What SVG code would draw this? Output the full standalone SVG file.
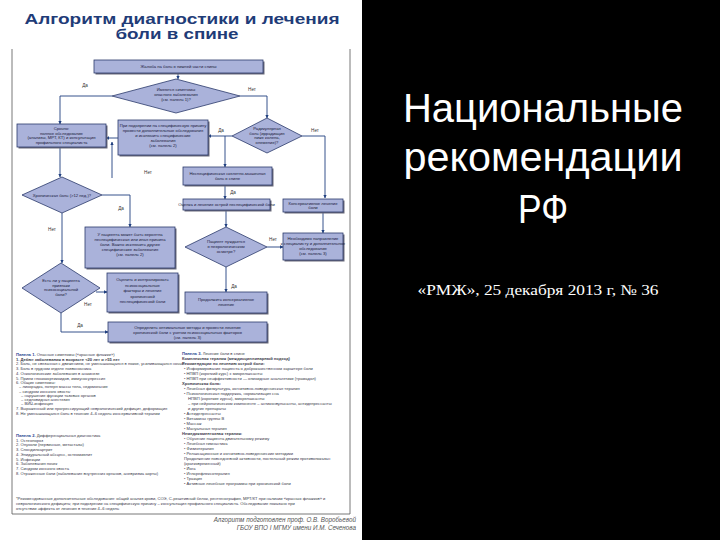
<svg xmlns="http://www.w3.org/2000/svg" width="720" height="540" viewBox="0 0 720 540">
<defs>
<marker id="ah" viewBox="0 0 6 6" refX="5.5" refY="3" markerWidth="4" markerHeight="4" orient="auto">
<path d="M0,0 L6,3 L0,6 z" fill="#1f3f7f"/>
</marker>
<style>
.nb{fill:#aab2da;stroke:#2b3a6b;stroke-width:0.8}
.sh{fill:#6a6a7a}
.nt{font-family:"Liberation Sans",Arial,sans-serif;font-size:4.2px;fill:#1a1a3a;text-anchor:middle}
.lb{font-family:"Liberation Sans",Arial,sans-serif;font-size:4.6px;fill:#333;text-anchor:middle}
.cn{fill:none;stroke:#1f3f7f;stroke-width:0.9}
.pt{font-family:"Liberation Sans",Arial,sans-serif;font-size:4.1px;fill:#3a3a4a}
.ph{font-family:"Liberation Sans",Arial,sans-serif;font-size:4.1px;fill:#1f3f8f;font-weight:bold}
.tt{font-family:"Liberation Sans",Arial,sans-serif;font-weight:bold;fill:#1f3c78;text-anchor:middle}
.fr{stroke:#555;stroke-width:0.8;fill:none}
</style>
</defs>
<rect x="0" y="0" width="720" height="540" fill="#000"/>
<rect x="0" y="0" width="362" height="540" fill="#fff"/>

<text class="tt" x="182" y="24" font-size="14.5" textLength="315" lengthAdjust="spacingAndGlyphs">Алгоритм диагностики и лечения</text>
<text class="tt" x="177" y="39" font-size="14.5" textLength="123" lengthAdjust="spacingAndGlyphs">боли в спине</text>

<path class="fr" d="M12,49 V514 H350 V49"/>

<g id="connectors">
<path class="cn" d="M178,73 V79" marker-end="url(#ah)"/>
<path class="cn" d="M112,96 H60 V124" marker-end="url(#ah)"/>
<path class="cn" d="M240,96 H267 V118" marker-end="url(#ah)"/>
<path class="cn" d="M232,136 H208" marker-end="url(#ah)"/>
<path class="cn" d="M225,136 V167" marker-end="url(#ah)"/>
<path class="cn" d="M302,136 H325 V198" marker-end="url(#ah)"/>
<path class="cn" d="M118,138 H106" marker-end="url(#ah)"/>
<path class="cn" d="M112,178 V142" marker-end="url(#ah)"/>
<path class="cn" d="M60,147 V177" marker-end="url(#ah)"/>
<path class="cn" d="M102,195 H130 V227" marker-end="url(#ah)"/>
<path class="cn" d="M62,213 V263" marker-end="url(#ah)"/>
<path class="cn" d="M96,292 H107" marker-end="url(#ah)"/>
<path class="cn" d="M61,313 V332 H108" marker-end="url(#ah)"/>
<path class="cn" d="M225,185 V199" marker-end="url(#ah)"/>
<path class="cn" d="M226,210 V227" marker-end="url(#ah)"/>
<path class="cn" d="M267,247 H283" marker-end="url(#ah)"/>
<path class="cn" d="M226,267 V292" marker-end="url(#ah)"/>
<path class="cn" d="M323,213 V233" marker-end="url(#ah)"/>
<text class="lb" x="85" y="87">Да</text>
<text class="lb" x="252" y="91">Нет</text>
<text class="lb" x="221" y="132">Да</text>
<text class="lb" x="315" y="132">Нет</text>
<text class="lb" x="148" y="174">Нет</text>
<text class="lb" x="121" y="210">Да</text>
<text class="lb" x="52" y="231">Нет</text>
<text class="lb" x="88" y="306">Нет</text>
<text class="lb" x="80" y="327">Да</text>
<text class="lb" x="233" y="194">Да</text>
<text class="lb" x="273" y="241">Нет</text>
<text class="lb" x="234" y="288">Да</text>
</g>

<g id="n-complaint">
<rect class="sh" x="95.5" y="61.5" width="169" height="13"/>
<rect class="nb" x="94" y="60" width="169" height="13"/>
<text class="nt" x="178.5" y="68">Жалоба на боль в нижней части спины</text>
</g>

<g id="n-danger">
<polygon class="nb" points="112,96 176,79 240,96 176,113"/>
<text class="nt" x="176" y="91">Имеются симптомы</text>
<text class="nt" x="176" y="96">опасного заболевания</text>
<text class="nt" x="176" y="101">(см. панель 1)?</text>
</g>

<g id="n-urgent">
<rect class="sh" x="18.5" y="125.5" width="89" height="23"/>
<rect class="nb" x="17" y="124" width="89" height="23"/>
<text class="nt" x="61.5" y="130">Срочно:</text>
<text class="nt" x="61.5" y="134.5">полное обследование</text>
<text class="nt" x="61.5" y="139">(анализы, МРТ, КТ) и консультация</text>
<text class="nt" x="61.5" y="143.5">профильного специалиста</text>
</g>

<g id="n-specific">
<rect class="sh" x="119.5" y="121.5" width="90" height="35"/>
<rect class="nb" x="118" y="120" width="90" height="35"/>
<text class="nt" x="163" y="127">При подозрении на специфическую причину</text>
<text class="nt" x="163" y="132">провести дополнительные обследования</text>
<text class="nt" x="163" y="137">и исключить специфические</text>
<text class="nt" x="163" y="142">заболевания</text>
<text class="nt" x="163" y="147">(см. панель 2)</text>
</g>

<g id="n-radicular">
<polygon class="nb" points="232,136 267,118 302,136 267,153"/>
<text class="nt" x="267" y="130">Радикулярная</text>
<text class="nt" x="267" y="134.5">боль (иррадиация</text>
<text class="nt" x="267" y="139">ниже колена,</text>
<text class="nt" x="267" y="143.5">онемение)?</text>
</g>

<g id="n-nonspecific">
<rect class="sh" x="184.5" y="168.5" width="89" height="18"/>
<rect class="nb" x="183" y="167" width="89" height="18"/>
<text class="nt" x="227.5" y="175">Неспецифическая скелетно-мышечная</text>
<text class="nt" x="227.5" y="180">боль в спине</text>
</g>

<g id="n-assess">
<rect class="sh" x="184.5" y="200.5" width="87" height="11"/>
<rect class="nb" x="183" y="199" width="87" height="11"/>
<text class="nt" x="226.5" y="206">Оценка и лечение острой неспецифической боли</text>
</g>

<g id="n-conservative">
<rect class="sh" x="284.5" y="200.5" width="60" height="13"/>
<rect class="nb" x="283" y="199" width="60" height="13"/>
<text class="nt" x="313" y="204.5">Консервативное лечение</text>
<text class="nt" x="313" y="209">боли</text>
</g>

<g id="n-neuro">
<polygon class="nb" points="185,247 226,227 267,247 226,267"/>
<text class="nt" x="226" y="243">Пациент нуждается</text>
<text class="nt" x="226" y="248">в неврологическом</text>
<text class="nt" x="226" y="253">осмотре?</text>
</g>

<g id="n-referral">
<rect class="sh" x="284.5" y="234.5" width="60" height="27"/>
<rect class="nb" x="283" y="233" width="60" height="27"/>
<text class="nt" x="313" y="239.5">Необходимо направление</text>
<text class="nt" x="313" y="244.5">к специалисту и дополнительное</text>
<text class="nt" x="313" y="249.5">обследование</text>
<text class="nt" x="313" y="254.5">(см. панель 3)</text>
</g>

<g id="n-continue">
<rect class="sh" x="186.5" y="293.5" width="82" height="21"/>
<rect class="nb" x="185" y="292" width="82" height="21"/>
<text class="nt" x="226" y="301">Продолжить консервативное</text>
<text class="nt" x="226" y="306">лечение</text>
</g>

<g id="n-chronic">
<polygon class="nb" points="22,195 62,177 102,195 62,213"/>
<text class="nt" x="62" y="196.5">Хроническая боль (&gt;12 нед.)?</text>
</g>

<g id="n-possible">
<rect class="sh" x="86.5" y="228.5" width="90" height="41"/>
<rect class="nb" x="85" y="227" width="90" height="41"/>
<text class="nt" x="130" y="236">У пациента может быть вероятна</text>
<text class="nt" x="130" y="241">неспецифическая или иная причина</text>
<text class="nt" x="130" y="246">боли. Важно исключить другие</text>
<text class="nt" x="130" y="251">специфические заболевания</text>
<text class="nt" x="130" y="256">(см. панель 2)</text>
</g>

<g id="n-psycho">
<polygon class="nb" points="22,288 61,263 100,288 61,313"/>
<text class="nt" x="61" y="282">Есть ли у пациента</text>
<text class="nt" x="61" y="286.5">признаки</text>
<text class="nt" x="61" y="291">психосоциальной</text>
<text class="nt" x="61" y="295.5">боли?</text>
</g>

<g id="n-evaluate">
<rect class="sh" x="108.5" y="274.5" width="71" height="39"/>
<rect class="nb" x="107" y="273" width="71" height="39"/>
<text class="nt" x="142.5" y="281">Оценить и контролировать</text>
<text class="nt" x="142.5" y="286.5">психосоциальные</text>
<text class="nt" x="142.5" y="292">факторы и лечение</text>
<text class="nt" x="142.5" y="297.5">хронической</text>
<text class="nt" x="142.5" y="303">неспецифической боли</text>
</g>

<g id="n-define">
<rect class="sh" x="109.5" y="323.5" width="159" height="20"/>
<rect class="nb" x="108" y="322" width="159" height="20"/>
<text class="nt" x="187.5" y="328.5">Определить оптимальные методы и провести лечение</text>
<text class="nt" x="187.5" y="333.5">хронической боли с учетом психосоциальных факторов</text>
<text class="nt" x="187.5" y="338.5">(см. панель 3)</text>
</g>

<g id="panels">
<text class="ph" x="16" y="356">Панель 1. <tspan fill="#3a3a4a" font-weight="normal">Опасные симптомы («красные флажки»)</tspan></text>
<text class="pt" x="16" y="360.7" font-weight="bold">1. Дебют заболевания в возрасте &lt;20 лет и &gt;55 лет</text>
<text class="pt" x="16" y="365.4">2. Боль, не связанная с движением, не уменьшающаяся в покое, усиливающаяся ночью</text>
<text class="pt" x="16" y="370.1">3. Боль в грудном отделе позвоночника</text>
<text class="pt" x="16" y="374.8">4. Онкологические заболевания в анамнезе</text>
<text class="pt" x="16" y="379.5">5. Прием глюкокортикоидов, иммуносупрессия</text>
<text class="pt" x="16" y="384.2">6. Общие симптомы:</text>
<text class="pt" x="19" y="388.4">– лихорадка, потеря массы тела, недомогание</text>
<text class="pt" x="19" y="392.6">– синдром конского хвоста:</text>
<text class="pt" x="21" y="396.8">– нарушение функции тазовых органов</text>
<text class="pt" x="21" y="401">– седловидная анестезия</text>
<text class="pt" x="21" y="405.2">– ВИЧ-инфекция</text>
<text class="pt" x="16" y="409.9">7. Выраженный или прогрессирующий неврологический дефицит, деформация</text>
<text class="pt" x="16" y="414.6">8. Не уменьшающаяся боль в течение 4–6 недель консервативной терапии</text>

<text class="ph" x="16" y="437">Панель 2. <tspan fill="#3a3a4a" font-weight="normal">Дифференциальная диагностика</tspan></text>
<text class="pt" x="16" y="441.7">1. Остеопороз</text>
<text class="pt" x="16" y="446.4">2. Опухоли (первичные, метастазы)</text>
<text class="pt" x="16" y="451.1">3. Спондилоартрит</text>
<text class="pt" x="16" y="455.8">4. Эпидуральный абсцесс, остеомиелит</text>
<text class="pt" x="16" y="460.5">5. Инфекции</text>
<text class="pt" x="16" y="465.2">6. Заболевания почек</text>
<text class="pt" x="16" y="469.9">7. Синдром конского хвоста</text>
<text class="pt" x="16" y="474.6">8. Отраженные боли (заболевания внутренних органов, аневризма аорты)</text>

<text class="pt" x="16" y="500">*Рекомендованные дополнительные обследования: общий анализ крови, СОЭ, С-реактивный белок, рентгенография, МРТ/КТ при наличии «красных флажков» и</text>
<text class="pt" x="16" y="505">неврологического дефицита; при подозрении на специфическую причину – консультация профильного специалиста. Обследование показано при</text>
<text class="pt" x="16" y="510">отсутствии эффекта от лечения в течение 4–6 недель</text>

<text class="ph" x="182" y="355">Панель 3. <tspan fill="#3a3a4a" font-weight="normal">Лечение боли в спине</tspan></text>
<text class="pt" x="182" y="360" font-weight="bold">Комплексная терапия (междисциплинарный подход)</text>
<text class="pt" x="182" y="365" font-weight="bold">Рекомендации по лечению острой боли:</text>
<text class="pt" x="184" y="370">• Информирование пациента о доброкачественном характере боли</text>
<text class="pt" x="184" y="375">• НПВП (короткий курс) ± миорелаксанты</text>
<text class="pt" x="184" y="380">• НПВП при неэффективности — опиоидные анальгетики (трамадол)</text>
<text class="pt" x="182" y="385" font-weight="bold">Хроническая боль:</text>
<text class="pt" x="184" y="390">• Лечебная физкультура, когнитивно-поведенческая терапия</text>
<text class="pt" x="184" y="395">• Психологическая поддержка, нормализация сна</text>
<text class="pt" x="188" y="400">НПВП (короткие курсы), миорелаксанты</text>
<text class="pt" x="188" y="405">– при нейропатическом компоненте – антиконвульсанты, антидепрессанты</text>
<text class="pt" x="188" y="410">и другие препараты</text>
<text class="pt" x="184" y="415">• Антидепрессанты</text>
<text class="pt" x="184" y="420">• Витамины группы В</text>
<text class="pt" x="184" y="425">• Массаж</text>
<text class="pt" x="184" y="430">• Мануальная терапия</text>
<text class="pt" x="182" y="435" font-weight="bold">Немедикаментозная терапия:</text>
<text class="pt" x="184" y="440">• Обучение пациента двигательному режиму</text>
<text class="pt" x="184" y="445">• Лечебная гимнастика</text>
<text class="pt" x="184" y="450">• Физиотерапия</text>
<text class="pt" x="184" y="455">• Релаксационные и когнитивно-поведенческие методики</text>
<text class="pt" x="184" y="460">Продолжение повседневной активности, постельный режим противопоказан</text>
<text class="pt" x="184" y="465">(кратковременный)</text>
<text class="pt" x="184" y="470">• Йога</text>
<text class="pt" x="184" y="475">• Иглорефлексотерапия</text>
<text class="pt" x="184" y="480">• Тракция</text>
<text class="pt" x="184" y="485">• Активные лечебные программы при хронической боли</text>
</g>

<g id="footer" font-family="'Liberation Sans',Arial,sans-serif" font-style="italic" font-size="6.3" fill="#555" text-anchor="end">
<text x="356" y="522">Алгоритм подготовлен проф. О.В. Воробьевой</text>
<text x="356" y="530">ГБОУ ВПО I МГМУ имени И.М. Сеченова</text>
</g>

<g id="slide-title" font-family="'Liberation Sans',Arial,sans-serif" fill="#fff" text-anchor="middle">
<text x="543" y="122" font-size="40" textLength="280" lengthAdjust="spacingAndGlyphs">Национальные</text>
<text x="543" y="171" font-size="40" textLength="279" lengthAdjust="spacingAndGlyphs">рекомендации</text>
<text x="543" y="223" font-size="40" textLength="50" lengthAdjust="spacingAndGlyphs">РФ</text>
</g>
<text x="538" y="295" font-family="'Liberation Serif','Times New Roman',serif" font-size="15" fill="#fff" text-anchor="middle" textLength="241" lengthAdjust="spacingAndGlyphs">«РМЖ», 25 декабря 2013 г, № 36</text>
</svg>
